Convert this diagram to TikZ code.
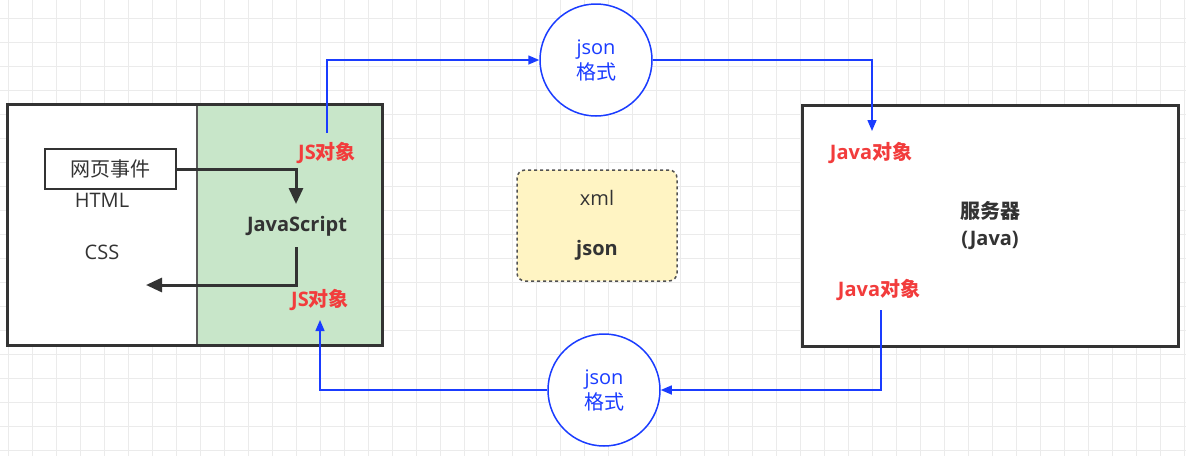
\documentclass[tikz,border=0pt]{standalone}
\usepackage{fontspec}
\setmainfont{Open Sans}
\newfontfamily\cjk{Noto Sans CJK SC}
\newcommand{\hanzi}[1]{{\cjk #1}}
\newcommand{\basefont}{\fontsize{20}{24}\selectfont}
\usetikzlibrary{shapes, arrows.meta}
\definecolor{darkline}{HTML}{333333}
\definecolor{jsgreen}{HTML}{C8E6C9}
\definecolor{noteyellow}{HTML}{FFF4C3}
\definecolor{flowblue}{HTML}{1A3CFF}
\definecolor{objred}{HTML}{F23C3C}
\definecolor{gridgray}{HTML}{EBEBEB}
\tikzstyle{page} = [rectangle, fill=white, minimum width=374pt, minimum height=240pt, inner sep=0pt]
\tikzstyle{hostframe} = [draw=darkline, line width=3pt]
\tikzstyle{jsarea} = [rectangle, fill=jsgreen, draw=black!65, line width=1.5pt, minimum width=185pt, minimum height=240pt, inner sep=0pt]
\tikzstyle{event} = [rectangle, draw=darkline, line width=2.5pt, minimum width=131pt, minimum height=40pt, text=darkline]
\tikzstyle{plain} = [text=darkline]
\tikzstyle{obj} = [text=objred, font=\basefont\bfseries]
\tikzstyle{format} = [circle, draw=flowblue, line width=1.5pt, fill=white, minimum size=112pt, inner sep=0pt, text=flowblue, align=center]
\tikzstyle{note} = [rectangle, rounded corners=8pt, dashed, draw=darkline!85, line width=1.5pt, fill=noteyellow, minimum width=160pt, minimum height=111pt, text=darkline, align=center]
\tikzstyle{server} = [rectangle, draw=darkline, line width=3pt, fill=white, minimum width=376pt, minimum height=241pt, text=darkline, align=center]
\tikzstyle{jsline} = [draw=darkline, line width=3pt, -{Triangle[length=16pt,width=14pt]}]
\tikzstyle{flow} = [draw=flowblue, line width=1.5pt, -{Triangle[length=11pt,width=9pt]}]

\begin{document}
\begin{tikzpicture}[x=1pt, y=-1pt, every node/.style={font=\basefont}]
    \useasboundingbox (0,0) rectangle (1186,456);
    % background grid
    \foreach \gx in {8,32,...,1184} \draw[gridgray, line width=1pt] (\gx,0) -- (\gx,456);
    \foreach \gy in {18,42,...,450} \draw[gridgray, line width=1pt] (0,\gy) -- (1186,\gy);

    % browser side
    \node [page] (page) at (195,225) {};
    \node [jsarea] (jsarea) at (289.5,225) {};
    \draw [hostframe] (page.north west) rectangle (page.south east);
    \node [event] (event) at (110.5,169) {\hanzi{网页事件}};
    \node [plain] (html) at (102,200) {HTML};
    \node [plain] (css) at (102,252) {CSS};
    \node [plain, font=\basefont\bfseries] (js) at (297,226) {JavaScript};
    \node [obj] (jsout) at (327,153) {JS\hanzi{对象}};
    \node [obj] (jsin) at (320,300) {JS\hanzi{对象}};
    \coordinate (jsentry) at (296,204);
    \coordinate (jsexit) at (296,247);
    \coordinate (cssentry) at (146,285);
    \path [jsline] (event.east) -| (jsentry);
    \path [jsline] (jsexit) |- (cssentry);

    % data formats
    \node [format] (jsonup) at (596,60) {json\\[1pt]\hanzi{格式}};
    \node [format] (jsondown) at (604,390) {json\\[1pt]\hanzi{格式}};
    \node [note] (formats) at (597,225.5) {xml\\[26pt]\textbf{json}};

    % server side
    \node [server] (server) at (990,225.5) {\textbf{\hanzi{服务器}}\\[3pt]\textbf{(Java)}};
    \node [obj] (javain) at (871,153) {Java\hanzi{对象}};
    \node [obj] (javaout) at (879,290) {Java\hanzi{对象}};
    \coordinate (jsup) at (327,133);
    \coordinate (javaenter) at (872,131);
    \coordinate (javaleave) at (881,310);
    \coordinate (jsback) at (320,320);

    \path [flow] (jsup) |- (jsonup.west);
    \path [flow] (jsonup.east) -| (javaenter);
    \path [flow] (javaleave) |- (jsondown.east);
    \path [flow] (jsondown.west) -| (jsback);
\end{tikzpicture}
\end{document}
